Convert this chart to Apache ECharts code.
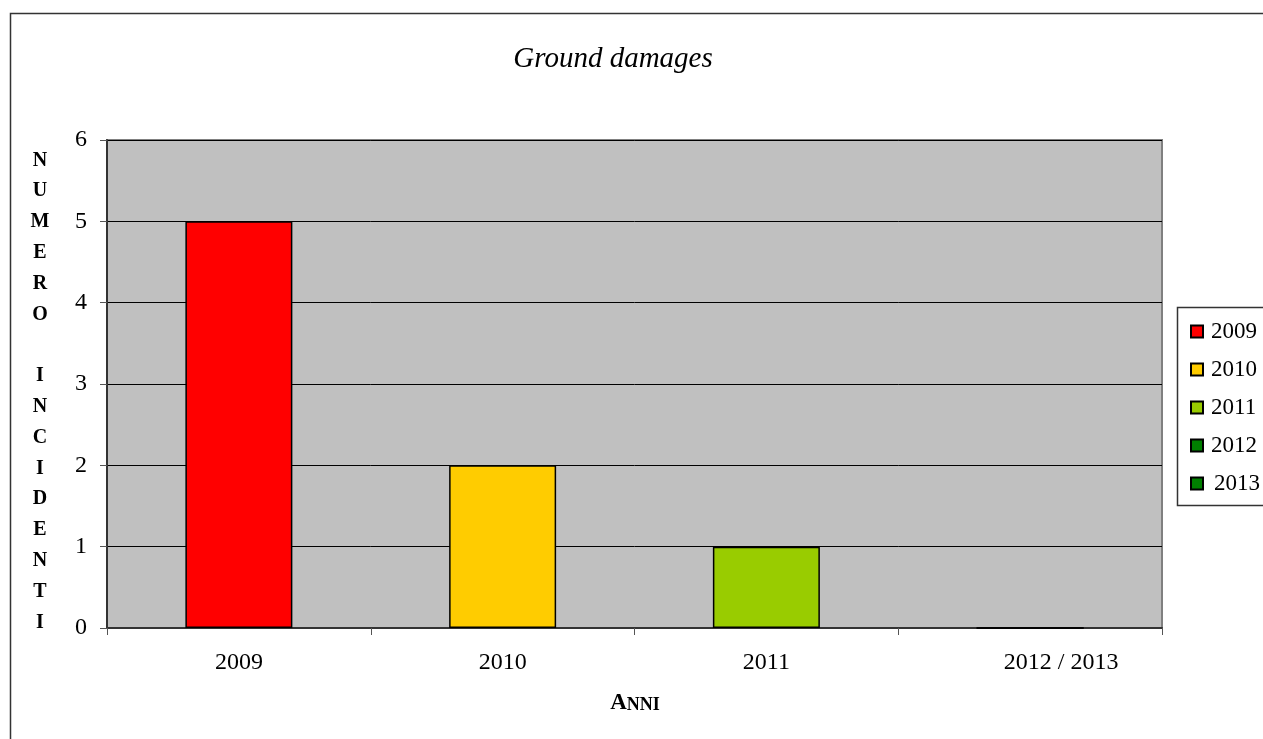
<!DOCTYPE html>
<html>
<head>
<meta charset="utf-8">
<style>
  html, body { margin: 0; padding: 0; background: #fff; }
  #chart { width: 1263px; height: 739px; }
</style>
<script src="https://cdn.jsdelivr.net/npm/echarts@6/dist/echarts.min.js"></script>
</head>
<body>
<div id="chart"></div>
<script>
// Categories on the x axis
const categories = ['2009', '2010', '2011', '2012 / 2013'];
// One series per year; each year only has a value in its own category
const seriesNames = ['2009', '2010', '2011', '2012', '2013'];
const values2009 = [5, null, null, null];
const values2010 = [null, 2, null, null];
const values2011 = [null, null, 1, null];
const values2012 = [null, null, null, 0];
const values2013 = [null, null, null, 0];
const seriesColors = ['#FF0000', '#FFCC00', '#99CC00', '#008000', '#008000'];
const yTicks = [0, 1, 2, 3, 4, 5, 6];
const yTitle = 'NUMERO INCIDENTI';

const serif = '"Liberation Serif", "DejaVu Serif", serif';
const seriesData = [values2009, values2010, values2011, values2012, values2013];

const chart = echarts.init(document.getElementById('chart'));
chart.setOption({
  animation: false,
  backgroundColor: '#ffffff',
  title: {
    text: 'Ground damages',
    left: 608,
    top: 40,
    textAlign: 'center',
    textStyle: { fontFamily: serif, fontStyle: 'italic', fontWeight: 'normal', fontSize: 29, color: '#000' }
  },
  grid: {
    left: 107, top: 140, right: 101, bottom: 111,
    show: true, backgroundColor: '#C0C0C0', borderColor: '#808080', borderWidth: 2
  },
  legend: {
    orient: 'vertical',
    left: 1185,
    top: 315,
    itemGap: 15,
    itemWidth: 12,
    itemHeight: 12,
    icon: 'rect',
    data: seriesNames.map((n, i) => ({
      name: n,
      textStyle: { padding: [0, 0, 0, i === 4 ? 6 : 3] }
    })),
    textStyle: { fontFamily: serif, fontSize: 23, color: '#000' }
  },
  xAxis: {
    type: 'category',
    // the last label sits right of its category centre
    data: categories.map((c, i) => i === categories.length - 1
      ? { value: c, textStyle: { padding: [0, 0, 0, 62] } }
      : c),
    axisLine: { lineStyle: { color: '#333', width: 2 } },
    axisTick: { show: true, length: 7, lineStyle: { color: '#555', width: 1 } },
    axisLabel: { margin: 23, fontFamily: serif, fontSize: 24, color: '#000' },
    splitLine: { show: false }
  },
  yAxis: {
    type: 'value',
    min: yTicks[0],
    max: yTicks[yTicks.length - 1],
    interval: 1,
    axisLine: { show: true, lineStyle: { color: '#333', width: 2 } },
    axisTick: { show: true, length: 7, lineStyle: { color: '#555', width: 1 } },
    axisLabel: { margin: 20, fontFamily: serif, fontSize: 24, color: '#000' },
    splitLine: { show: true, lineStyle: { color: '#000', width: 1 } }
  },
  graphic: [
    {
      type: 'rect',
      silent: true,
      z: -10,
      shape: { x: 10.5, y: 13.5, width: 1400, height: 900 },
      style: { fill: 'none', stroke: '#333', lineWidth: 1.5 }
    },
    {
      type: 'rect',
      silent: true,
      z: -5,
      shape: { x: 1177.5, y: 307.5, width: 200, height: 198 },
      style: { fill: '#fff', stroke: '#333', lineWidth: 1.5 }
    },
    {
      type: 'text',
      silent: true,
      x: 40,
      y: 145,
      style: {
        text: yTitle.split('').join('\n'),
        textAlign: 'center',
        textVerticalAlign: 'top',
        fontFamily: serif,
        fontWeight: 'bold',
        fontSize: 20,
        lineHeight: 30.8,
        fill: '#000'
      }
    },
    {
      type: 'text',
      silent: true,
      x: 635,
      y: 703,
      style: {
        text: '{a|A}{b|NNI}',
        textAlign: 'center',
        textVerticalAlign: 'middle',
        rich: {
          a: { fontFamily: serif, fontWeight: 'bold', fontSize: 23, fill: '#000', color: '#000' },
          b: { fontFamily: serif, fontWeight: 'bold', fontSize: 18, fill: '#000', color: '#000', padding: [4, 0, 0, 0] }
        }
      }
    }
  ],
  series: seriesNames.map((name, i) => ({
    name: name,
    type: 'bar',
    stack: 'years',
    barWidth: 107,
    data: seriesData[i],
    itemStyle: { color: seriesColors[i], borderColor: '#000', borderWidth: 1.5 }
  }))
});
</script>
</body>
</html>
